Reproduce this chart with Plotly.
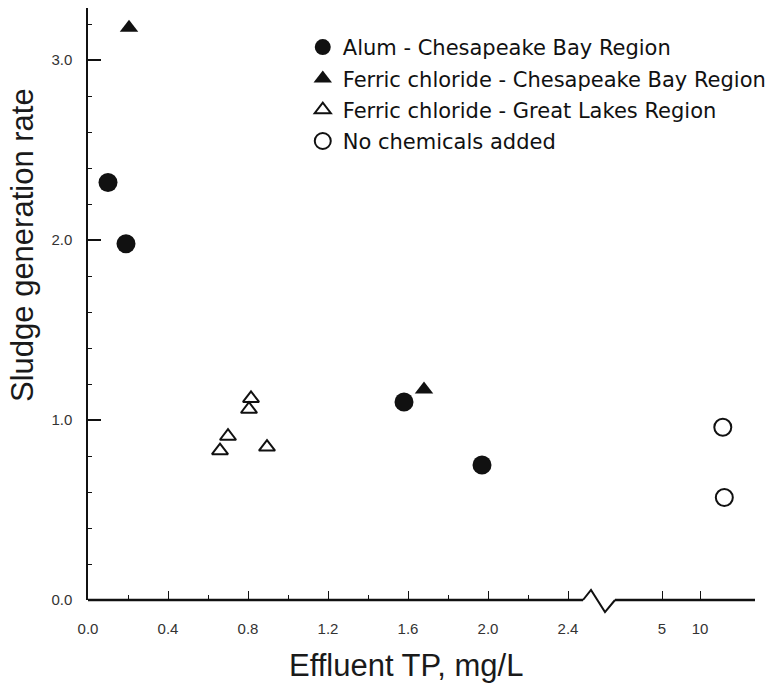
import plotly.graph_objects as go

# ---------------- data ----------------
alum_x = [0.10, 0.19, 1.58, 1.97]
alum_y = [2.32, 1.98, 1.10, 0.75]

fecl_cb_x = [0.205, 1.68]
fecl_cb_y = [3.18, 1.17]

fecl_gl_x = [0.815, 0.805, 0.70, 0.66, 0.895]
fecl_gl_y = [1.12, 1.06, 0.91, 0.83, 0.85]

none_x = [13.0, 13.2]
none_y = [0.96, 0.57]

x_tick_vals = [0.0, 0.4, 0.8, 1.2, 1.6, 2.0, 2.4, 5, 10]
x_tick_text = ["0.0", "0.4", "0.8", "1.2", "1.6", "2.0", "2.4", "5", "10"]
x_minor_vals = [0.2, 0.6, 1.0, 1.4, 1.8, 2.2]
y_tick_vals = [0, 1, 2, 3]
y_tick_text = ["0.0", "1.0", "2.0", "3.0"]

# ------------- broken-axis transform -------------
BREAK_AT = 2.5
P5, P10 = 2.87, 3.06
XMAX, YMAX = 3.335, 3.29


def xpos(v):
    if v <= BREAK_AT:
        return v
    return P5 + (v - 5) * (P10 - P5) / 5.0


def px(pos):
    return pos / XMAX


def py(val):
    return val / YMAX


ink = "#111111"
fig = go.Figure()

fig.add_trace(go.Scatter(
    x=[xpos(v) for v in alum_x], y=alum_y, mode="markers",
    name="Alum - Chesapeake Bay Region", legendgroup="a",
    marker=dict(symbol="circle", size=19, color=ink, line=dict(width=0)),
))
fig.add_trace(go.Scatter(
    x=[xpos(v) for v in fecl_cb_x], y=fecl_cb_y, mode="markers",
    name="Ferric chloride - Chesapeake Bay Region", legendgroup="b",
    marker=dict(symbol="triangle-up", size=16, color=ink, line=dict(width=0)),
))
fig.add_trace(go.Scatter(
    x=[xpos(v) for v in fecl_gl_x], y=fecl_gl_y, mode="markers",
    name="Ferric chloride - Great Lakes Region", legendgroup="c",
    marker=dict(symbol="triangle-up-open", size=14, color=ink, line=dict(width=2, color=ink)),
))
fig.add_trace(go.Scatter(
    x=[xpos(v) for v in none_x], y=none_y, mode="markers",
    name="No chemicals added", legendgroup="d",
    marker=dict(symbol="circle-open", size=17, color=ink, line=dict(width=2, color=ink)),
))

# x-axis line with break zig-zag
b0, b1, b2, b3 = 2.475, 2.515, 2.585, 2.635
shapes = [
    dict(type="line", xref="paper", yref="paper", x0=0, x1=px(b0), y0=0, y1=0,
         line=dict(color=ink, width=2.5)),
    dict(type="path", xref="paper", yref="paper",
         path=f"M {px(b0)} 0 L {px(b1)} {py(0.056)} L {px(b2)} {py(-0.067)} L {px(b3)} 0",
         line=dict(color=ink, width=2)),
    dict(type="line", xref="paper", yref="paper", x0=px(b3), x1=1, y0=0, y1=0,
         line=dict(color=ink, width=2.5)),
]

fig.update_layout(
    width=774, height=687,
    margin=dict(l=88, r=19, t=8, b=87, autoexpand=False),
    paper_bgcolor="white", plot_bgcolor="white",
    font=dict(family="Liberation Sans, Arial, sans-serif", color=ink),
    showlegend=True,
    legend=dict(
        x=0.322, y=0.968, xanchor="left", yanchor="top",
        font=dict(family="DejaVu Sans, sans-serif", size=21, color=ink),
        bgcolor="rgba(0,0,0,0)", tracegroupgap=1,
    ),
    shapes=shapes,
    xaxis=dict(
        range=[0, XMAX], showgrid=False, zeroline=False, showline=False,
        tickmode="array", tickvals=[xpos(v) for v in x_tick_vals], ticktext=x_tick_text,
        ticks="inside", ticklen=9, tickwidth=1.3, tickcolor=ink,
        tickfont=dict(size=15, color="#333333"), ticklabelstandoff=18,
        minor=dict(tickmode="array", tickvals=x_minor_vals, ticks="inside",
                   ticklen=5, tickwidth=1, tickcolor=ink),
    ),
    yaxis=dict(
        range=[0, YMAX], showgrid=False, zeroline=False,
        showline=True, linecolor=ink, linewidth=1.5,
        tickmode="array", tickvals=y_tick_vals, ticktext=y_tick_text,
        ticks="inside", ticklen=13, tickwidth=1.5, tickcolor=ink,
        tickfont=dict(size=15, color="#333333"), ticklabelstandoff=11,
        minor=dict(dtick=0.2, tick0=0, ticks="inside", ticklen=4, tickwidth=1.2, tickcolor=ink),
    ),
    annotations=[
        dict(text="Effluent TP, mg/L", xref="paper", yref="paper",
             x=(406 - 88) / 667, y=-(665 - 600) / 592, xanchor="center", yanchor="middle",
             showarrow=False, font=dict(size=31, color="#1a1a1a")),
        dict(text="Sludge generation rate", xref="paper", yref="paper",
             x=(22 - 88) / 667, y=1 - (245 - 8) / 592, xanchor="center", yanchor="middle",
             textangle=-90, showarrow=False, font=dict(size=31, color="#1a1a1a")),
    ],
)

fig.write_html("out.html")
